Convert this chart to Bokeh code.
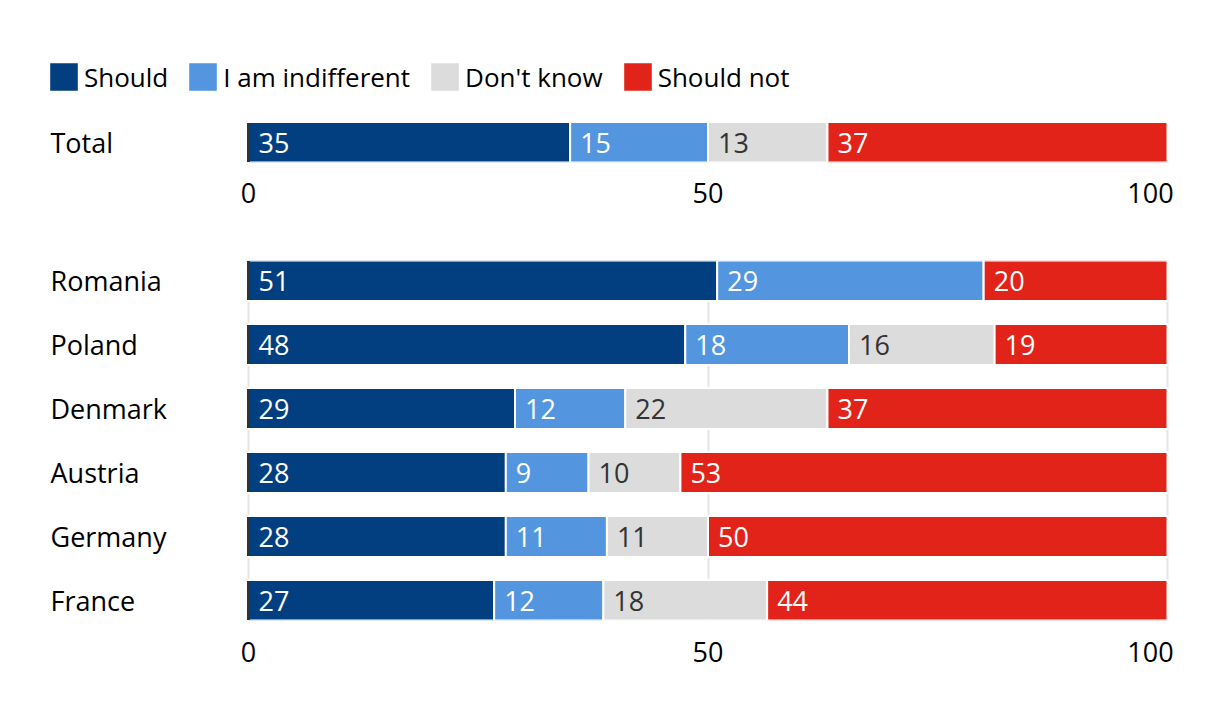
import numpy as np
from bokeh.plotting import figure
from bokeh.models import (ColumnDataSource, Range1d, FixedTicker,
                          Legend, LegendItem)
from bokeh.layouts import column
from bokeh.embed import file_html
from bokeh.resources import INLINE
from bokeh.core.properties import value

# ---------------- data ----------------
series = ["Should", "I am indifferent", "Don't know", "Should not"]

total_label = ["Total"]
total_should = [35]
total_indifferent = [15]
total_dont_know = [13]
total_should_not = [37]

countries = ["Romania", "Poland", "Denmark", "Austria", "Germany", "France"]
should = [51, 48, 29, 28, 28, 27]
indifferent = [29, 18, 12, 9, 11, 12]
dont_know = [0, 16, 22, 10, 11, 18]
should_not = [20, 19, 37, 53, 50, 44]

x_ticks = [0, 50, 100]

# ---------------- style ----------------
colors = ["#023f80", "#5495e0", "#dcdcdc", "#e2231a"]
label_colors = ["#ffffff", "#ffffff", "#333333", "#ffffff"]
FONT = "Open Sans"
FS = "27px"
PX_PER_UNIT = 9.19          # pixels per percentage point
LEFT_PAD = 208              # pixels between frame left and the 0 line
FRAME_W = 1130
BAR_H = 0.64
HALF = 0.3125
X_START = -LEFT_PAD / PX_PER_UNIT
X_END = X_START + FRAME_W / PX_PER_UNIT
LABEL_X = -198 / PX_PER_UNIT
# last tick label is right-aligned to the end of the scale (figure spaces pad it)
LAST_TICK_LABEL = {x_ticks[-1]: str(x_ticks[-1]) + "\u2007" * 2}


def make_fig(frame_h, border_top, border_bottom, y_range):
    p = figure(width=1204, frame_width=FRAME_W, frame_height=frame_h,
               x_range=Range1d(X_START, X_END), y_range=y_range,
               y_axis_location=None, output_backend="svg",
               toolbar_location=None, min_border_left=40, min_border_right=34,
               min_border_top=border_top, min_border_bottom=border_bottom)
    p.outline_line_color = None
    p.background_fill_color = "white"
    p.border_fill_color = "white"
    p.ygrid.visible = False
    ax = p.xaxis[0]
    ax.ticker = FixedTicker(ticks=x_ticks)
    ax.major_label_overrides = LAST_TICK_LABEL
    ax.axis_line_color = None
    ax.major_tick_line_color = None
    ax.minor_tick_line_color = None
    ax.major_tick_out = 0
    ax.major_tick_in = 0
    ax.major_label_text_font = FONT
    ax.major_label_text_font_size = FS
    ax.major_label_text_color = "#000000"
    return p


def draw_rows(p, cats, cols):
    n = len(cats)
    ypos = np.arange(n, dtype=float)
    rows = np.array(cols, dtype=float)
    shares = rows / rows.sum(axis=0) * 100
    lefts = np.vstack([np.zeros(n), np.cumsum(shares, axis=0)[:-1]])
    rends = []
    for k in range(len(cols)):
        src = ColumnDataSource(dict(
            y=ypos, left=lefts[k], right=lefts[k] + shares[k],
            txt=[str(v) if v > 0 else "" for v in cols[k]]))
        r = p.hbar(y="y", left="left", right="right", height=BAR_H, source=src,
                   fill_color=colors[k], line_color="white", line_width=2)
        p.text(x="left", y="y", text="txt", source=src, x_offset=10,
               text_align="left", text_baseline="middle",
               text_color=label_colors[k], text_font=value(FONT),
               text_font_size=FS)
        rends.append(r)
    p.text(x=[LABEL_X] * n, y=ypos, text=cats, text_align="left",
           text_baseline="middle", text_color="#000000",
           text_font=value(FONT), text_font_size=FS)
    # dark baseline at 0, spanning each bar
    p.segment(x0=np.zeros(n), y0=ypos - 0.61 / 2, x1=np.zeros(n),
              y1=ypos + 0.61 / 2, line_color="#333333", line_width=3)
    return rends


# ---------------- top panel (legend + Total) ----------------
p_top = make_fig(112, 50, 76, Range1d(-HALF, -HALF + 112 / 64))
p_top.xgrid.visible = False
p_top.xaxis.major_label_standoff = 11
top_rends = draw_rows(p_top, total_label,
                      [total_should, total_indifferent, total_dont_know,
                       total_should_not])

legend = Legend(items=[LegendItem(label=s, renderers=[r])
                       for s, r in zip(series, top_rends)],
                orientation="horizontal", location=(5, 67),
                glyph_width=37, glyph_height=37, label_standoff=2,
                spacing=16, padding=0, margin=0,
                label_text_font=FONT, label_text_font_size="26px",
                label_text_color="#000000",
                border_line_alpha=0, background_fill_alpha=0)
p_top.add_layout(legend)

# ---------------- bottom panel (countries) ----------------
n = len(countries)
p_bot = make_fig(360, 22, 70, Range1d(n - 1 + HALF, -HALF))
p_bot.xgrid.grid_line_color = "#e4e4e4"
p_bot.xgrid.grid_line_width = 2
p_bot.xaxis.major_label_standoff = 12
draw_rows(p_bot, countries, [should, indifferent, dont_know, should_not])

layout = column(p_top, p_bot, spacing=0)
open("out.html", "w").write(file_html(layout, INLINE))
